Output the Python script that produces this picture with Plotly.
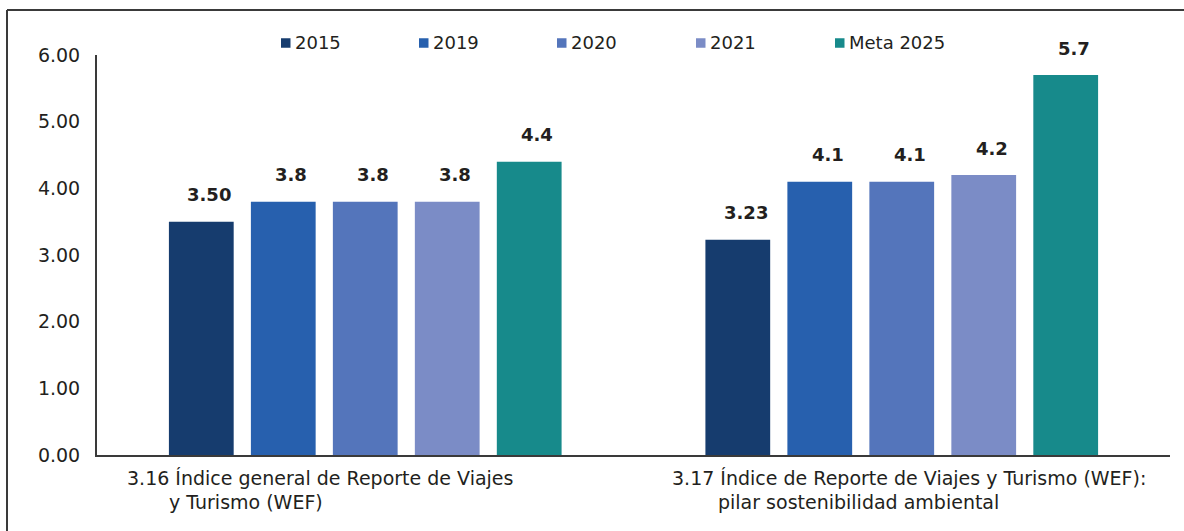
import plotly.graph_objects as go

# Indicator categories (two-line labels) and yearly series
categories = ["3.16", "3.17"]
category_lines = [
    ["3.16 Índice general de Reporte de Viajes", "y Turismo (WEF)"],
    ["3.17 Índice de Reporte de Viajes y Turismo (WEF):", "pilar sostenibilidad ambiental"],
]
series_names = ["2015", "2019", "2020", "2021", "Meta 2025"]
values_2015 = [3.50, 3.23]
values_2019 = [3.8, 4.1]
values_2020 = [3.8, 4.1]
values_2021 = [3.8, 4.2]
values_meta = [4.4, 5.7]
decimals_2015 = 2  # the 2015 values are reported with two decimals
y_ticks = [0, 1, 2, 3, 4, 5, 6]

series_values = [values_2015, values_2019, values_2020, values_2021, values_meta]
colors = ["#163C6E", "#2760AE", "#5475BB", "#7B8CC6", "#178A8B"]

FONT = "DejaVu Sans"
TEXT = "#231F20"
FS = 18
FS_AXIS = 19

# Plot-area geometry in pixels (used to place the legend and frame)
W, H = 1184, 531
ML, MR, MT, MB = 97, 14, 55, 76
PW, PH = W - ML - MR, H - MT - MB


def px_x(px):
    return (px - ML) / PW


def px_y(py):
    return (H - MB - py) / PH


fig = go.Figure()
for name, vals, col in zip(series_names, series_values, colors):
    fig.add_trace(go.Bar(
        name=name, x=categories, y=vals, marker=dict(color=col, line=dict(width=0)),
        hoverinfo="skip", showlegend=False,
    ))

# Value labels above every bar (x given as category index on the category axis)
n = len(series_names)
bar_step = 82
for i, (name, vals) in enumerate(zip(series_names, series_values)):
    for ci, v in enumerate(vals):
        dec = decimals_2015 if name == "2015" else 1
        fig.add_annotation(
            x=ci, y=v, xref="x", yref="y", text=f"<b>{v:.{dec}f}</b>",
            showarrow=False, xshift=(i - (n - 1) / 2) * bar_step + 8, yshift=27,
            font=dict(family=FONT, size=FS, color=TEXT), yanchor="middle",
        )

# Category labels under the axis: first line, then an indented second line
line_offsets = [(-240, -198), (-232, -186)]
for ci, (lines, offs) in enumerate(zip(category_lines, line_offsets)):
    for k, (txt, dx) in enumerate(zip(lines, offs)):
        fig.add_annotation(
            x=ci, y=0, xref="x", yref="y", text=txt, showarrow=False,
            xanchor="left", yanchor="middle", xshift=dx, yshift=-23 - 24 * k,
            font=dict(family=FONT, size=FS_AXIS, color=TEXT),
        )

# Legend row: small square swatch followed by the series name
legend_x_px = [281, 419, 557, 696, 835]
legend_y_px = 43
for name, col, lx in zip(series_names, colors, legend_x_px):
    fig.add_shape(type="rect", xref="paper", yref="paper",
                  x0=px_x(lx), x1=px_x(lx + 9.5), y0=px_y(legend_y_px + 4.75),
                  y1=px_y(legend_y_px - 4.75), fillcolor=col, line=dict(width=0))
    fig.add_annotation(xref="paper", yref="paper", x=px_x(lx + 12), y=px_y(legend_y_px),
                       text=name, showarrow=False, xanchor="left", yanchor="middle",
                       font=dict(family=FONT, size=FS, color=TEXT))

# Outer frame (top and left edges)
frame = dict(color="#3A3A3A", width=2)
fig.add_shape(type="line", xref="paper", yref="paper", x0=px_x(7), x1=px_x(W + 5),
              y0=px_y(10), y1=px_y(10), line=frame)
fig.add_shape(type="line", xref="paper", yref="paper", x0=px_x(7), x1=px_x(7),
              y0=px_y(10), y1=px_y(H + 5), line=frame)

fig.update_layout(
    width=W, height=H,
    margin=dict(l=ML, r=MR, t=MT, b=MB),
    paper_bgcolor="white", plot_bgcolor="white",
    barmode="group", bargap=0.236, bargroupgap=0.21,
    font=dict(family=FONT, size=FS, color=TEXT),
    showlegend=False,
    xaxis=dict(type="category", range=[-0.5, 1.5], showticklabels=False, ticks="",
               showline=True, linecolor="#3A3A3A", linewidth=2, showgrid=False,
               zeroline=False, fixedrange=True),
    yaxis=dict(range=[0, 6], tickvals=y_ticks, tickformat=".2f", ticks="",
               showline=True, linecolor="#3A3A3A", linewidth=2, showgrid=False,
               zeroline=False, ticklabelstandoff=11, fixedrange=True,
               tickfont=dict(family=FONT, size=FS_AXIS, color=TEXT)),
)

fig.write_html("out.html")
